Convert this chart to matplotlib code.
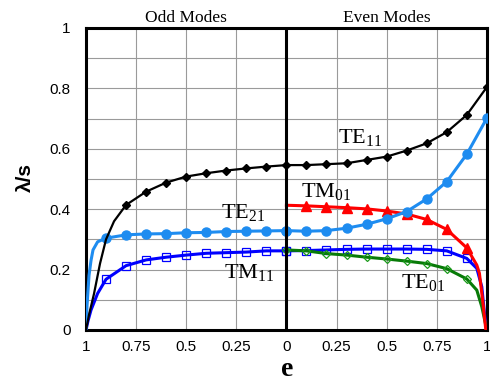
import numpy as np
import matplotlib
matplotlib.use('Agg')
import matplotlib.pyplot as plt
from matplotlib.ticker import FuncFormatter, MultipleLocator

plt.rcParams['font.family'] = 'Liberation Sans'
plt.rcParams['mathtext.fontset'] = 'custom'
plt.rcParams['mathtext.rm'] = 'Liberation Serif'
plt.rcParams['mathtext.it'] = 'Liberation Serif:italic'

# values; odd modes are drawn at -e, even modes at +e
te11_odd_e = [1.0, 0.985, 0.96, 0.93, 0.9, 0.86, 0.8, 0.7, 0.6, 0.5, 0.4, 0.3, 0.2, 0.1, 0.0]
te11_odd = [0.0, 0.05, 0.12, 0.22, 0.30, 0.36, 0.414, 0.458, 0.488, 0.508, 0.519, 0.528, 0.535, 0.541, 0.546]
te11_even_e = [0.0, 0.1, 0.2, 0.3, 0.4, 0.5, 0.6, 0.7, 0.8, 0.9, 1.0]
te11_even = [0.546, 0.546, 0.549, 0.552, 0.563, 0.574, 0.594, 0.618, 0.655, 0.712, 0.804]

te21_odd_e = [1.0, 0.995, 0.985, 0.975, 0.965, 0.942, 0.9, 0.8, 0.7, 0.6, 0.5, 0.4, 0.3, 0.2, 0.1, 0.0]
te21_odd = [0.0, 0.08, 0.18, 0.23, 0.265, 0.292, 0.304, 0.315, 0.318, 0.319, 0.322, 0.323, 0.326, 0.327, 0.328, 0.329]
te21_even_e = [0.0, 0.1, 0.2, 0.3, 0.4, 0.5, 0.6, 0.7, 0.8, 0.9, 1.0]
te21_even = [0.329, 0.327, 0.329, 0.337, 0.350, 0.368, 0.392, 0.434, 0.491, 0.582, 0.701]

tm11_odd_e = [1.0, 0.99, 0.975, 0.942, 0.9, 0.8, 0.7, 0.6, 0.5, 0.4, 0.3, 0.2, 0.1, 0.0]
tm11_odd = [0.0, 0.03, 0.066, 0.121, 0.168, 0.213, 0.232, 0.241, 0.248, 0.254, 0.256, 0.258, 0.262, 0.262]
tm11_even_e = [0.0, 0.1, 0.2, 0.3, 0.4, 0.5, 0.6, 0.7, 0.8, 0.9, 0.95, 0.975, 0.99, 1.0]
tm11_even = [0.262, 0.263, 0.265, 0.267, 0.268, 0.268, 0.268, 0.267, 0.262, 0.237, 0.204, 0.143, 0.044, 0.0]

tm01_e = [0.0, 0.1, 0.2, 0.3, 0.4, 0.5, 0.6, 0.7, 0.8, 0.9, 0.95, 0.963, 0.983, 0.995]
tm01 = [0.413, 0.411, 0.408, 0.405, 0.401, 0.394, 0.384, 0.366, 0.333, 0.272, 0.215, 0.188, 0.077, 0.0]

te01_e = [0.0, 0.1, 0.2, 0.3, 0.4, 0.5, 0.6, 0.7, 0.8, 0.9, 0.95, 0.975, 1.0]
te01 = [0.265, 0.262, 0.253, 0.248, 0.241, 0.235, 0.228, 0.220, 0.203, 0.169, 0.132, 0.077, 0.0]

# which e values carry a marker
marks_a = [0.0, 0.1, 0.2, 0.3, 0.4, 0.5, 0.6, 0.7, 0.8, 0.9, 1.0]
marks_odd_te11 = [0.1, 0.2, 0.3, 0.4, 0.5, 0.6, 0.7, 0.8]
marks_odd = [0.0, 0.1, 0.2, 0.3, 0.4, 0.5, 0.6, 0.7, 0.8, 0.9]
marks_red = [0.1, 0.2, 0.3, 0.4, 0.5, 0.6, 0.7, 0.8, 0.9]

xticks = [-1, -0.75, -0.5, -0.25, 0, 0.25, 0.5, 0.75, 1]


def mark_idx(es, marks):
    return [i for i, e in enumerate(es) if any(abs(e - m) < 1e-9 for m in marks)]


def curve(ax, es, vals, marks, sign, **kw):
    x = sign * np.array(es)
    ax.plot(x, vals, markevery=mark_idx(es, marks), **kw)


fig = plt.figure(figsize=(4.9, 3.81), dpi=100)
ax = fig.add_axes([0.1755, 0.1339, 0.818, 0.7927])

blue = '#0000ff'
lblue = '#1e8cf0'
green = '#087a08'
red = '#ff0000'

# TM11
curve(ax, tm11_odd_e, tm11_odd, marks_odd, -1, color=blue, lw=2.2, marker='s', ms=6,
      mfc='none', mec=blue, mew=0.9, zorder=3)
curve(ax, tm11_even_e, tm11_even, marks_odd, 1, color=blue, lw=2.2, marker='s', ms=6,
      mfc='none', mec=blue, mew=0.9, zorder=3)
# TE01
curve(ax, te01_e, te01, marks_odd, 1, color=green, lw=2.2, marker='D', ms=4,
      mfc='none', mec='#1a9a1a', mew=0.9, zorder=4)
# TM01
curve(ax, tm01_e, tm01, marks_red, 1, color=red, lw=2.2, marker='^', ms=6.5, zorder=5)
# TE21
curve(ax, te21_odd_e, te21_odd, marks_odd, -1, color=lblue, lw=2.2, marker='o', ms=6.5, zorder=6)
curve(ax, te21_even_e, te21_even, marks_a, 1, color=lblue, lw=2.2, marker='o', ms=6.5, zorder=6)
# TE11
curve(ax, te11_odd_e, te11_odd, marks_odd_te11, -1, color='k', lw=1.6, marker='D', ms=4.5, zorder=7)
curve(ax, te11_even_e, te11_even, marks_a, 1, color='k', lw=1.6, marker='D', ms=4.5, zorder=7)

ax.axvline(0, color='k', lw=2.2, zorder=8)

ax.set_xlim(-1, 1)
ax.set_ylim(0, 1)
ax.set_xticks(xticks)
ax.xaxis.set_major_formatter(FuncFormatter(lambda v, p: '{:g}'.format(abs(v))))
ax.yaxis.set_major_locator(MultipleLocator(0.2))
ax.yaxis.set_minor_locator(MultipleLocator(0.1))
ax.yaxis.set_major_formatter(FuncFormatter(lambda v, p: '{:g}'.format(round(v, 2))))
ax.tick_params(axis='both', which='both', length=0, labelsize=11)
ax.tick_params(axis='x', pad=7)
ax.tick_params(axis='y', pad=11)
ax.grid(True, which='both', color='#9a9a9a', lw=0.8)
ax.set_axisbelow(True)
for s in ax.spines.values():
    s.set_linewidth(2.2)

lab = dict(family='Liberation Serif', fontsize=16, ha='left', va='baseline', zorder=9)
ax.text(0.258, 0.618, 'TE$_{11}$', **lab)
ax.text(0.075, 0.441, 'TM$_{01}$', **lab)
ax.text(-0.325, 0.370, 'TE$_{21}$', **lab)
ax.text(-0.3135, 0.171, 'TM$_{11}$', **lab)
ax.text(0.57, 0.138, 'TE$_{01}$', **lab)

trans = ax.get_xaxis_transform()
ax.text(-0.5, 1.021, 'Odd Modes', transform=trans, family='Liberation Serif', fontsize=12.5,
        ha='center', va='baseline')
ax.text(0.5, 1.021, 'Even Modes', transform=trans, family='Liberation Serif', fontsize=12.5,
        ha='center', va='baseline')

fig.text(25 / 490, 1 - 177 / 381, 'λ/s', rotation=90, fontsize=15, fontweight='bold',
         ha='center', va='center')
fig.text(287 / 490, 1 - 370 / 381, 'e', family='Liberation Serif', fontsize=20,
         fontweight='bold', ha='center', va='center')

fig.savefig('out.png', dpi=100)
